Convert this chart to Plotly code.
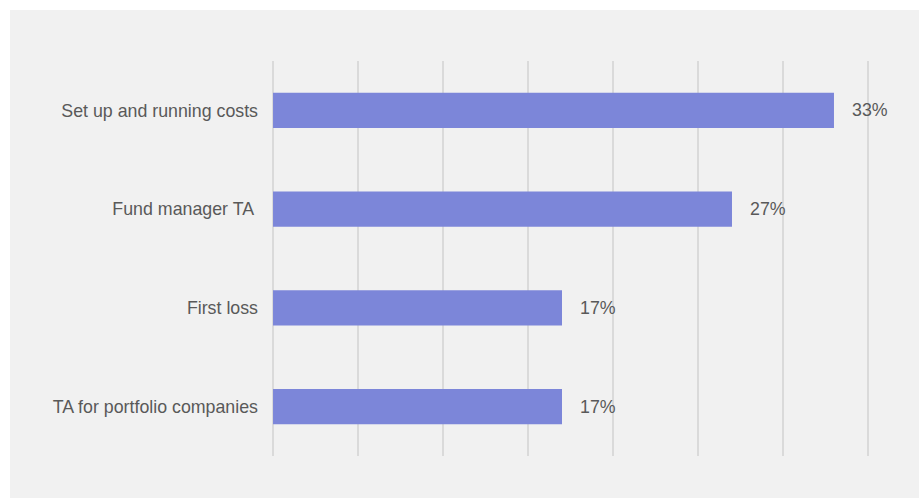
import plotly.graph_objects as go

categories = ["Set up and running costs", "Fund manager TA ", "First loss", "TA for portfolio companies"]
values = [33, 27, 17, 17]
labels = ["33%", "27%", "17%", "17%"]

W, H = 919, 498
ml, mr, mt, mb = 272, 50, 61, 42
pw, ph = W - ml - mr, H - mt - mb

fig = go.Figure()
fig.add_trace(go.Bar(
    x=values, y=categories, orientation="h",
    marker=dict(color="#7c86d9", line=dict(width=0)),
    hoverinfo="skip",
))

for v, c, t in zip(values, categories, labels):
    fig.add_annotation(x=v, y=c, text=t, showarrow=False, xanchor="left",
                       xshift=16, font=dict(size=17.8, color="#595959"))

# gray panel background
fig.add_shape(type="rect", xref="paper", yref="paper", layer="below",
              x0=(10 - ml) / pw, x1=(W + 5 - ml) / pw,
              y0=(mt + ph - (H + 5)) / ph, y1=(mt + ph - 10) / ph,
              fillcolor="#f1f1f1", line=dict(width=0))

fig.update_layout(
    width=W, height=H,
    margin=dict(l=ml, r=mr, t=mt, b=mb),
    paper_bgcolor="white", plot_bgcolor="rgba(0,0,0,0)",
    bargap=0.645, showlegend=False,
    font=dict(family="Liberation Sans, Arial, sans-serif", size=17.8, color="#595959"),
    xaxis=dict(range=[-0.06, 35.06], tick0=0, dtick=5, showticklabels=False, showgrid=True,
               gridcolor="#dadada", gridwidth=2, zeroline=False, fixedrange=True),
    yaxis=dict(autorange="reversed", showgrid=False, zeroline=False,
               ticklabelstandoff=13, ticks="", fixedrange=True),
)

fig.write_html("out.html")
